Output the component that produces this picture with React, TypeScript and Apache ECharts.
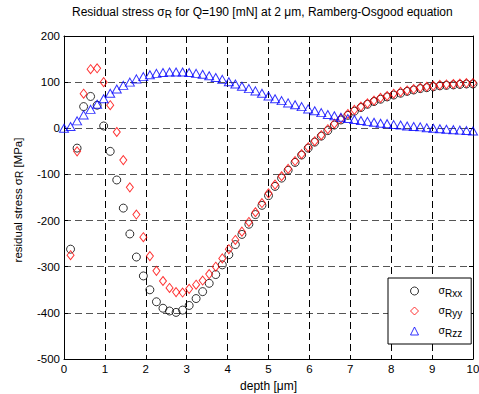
import React, { useEffect, useRef } from 'react';
import * as echarts from 'echarts';

// depth [µm] sampling points
const depth = [0, 0.16, 0.32, 0.48, 0.65, 0.81, 0.97, 1.13, 1.29, 1.45, 1.61, 1.77, 1.94, 2.10, 2.26, 2.42, 2.58, 2.74, 2.90, 3.06, 3.23, 3.39, 3.55, 3.71, 3.87, 4.03, 4.19, 4.35, 4.52, 4.68, 4.84, 5.00, 5.16, 5.32, 5.48, 5.65, 5.81, 5.97, 6.13, 6.29, 6.45, 6.61, 6.77, 6.94, 7.10, 7.26, 7.42, 7.58, 7.74, 7.90, 8.06, 8.23, 8.39, 8.55, 8.71, 8.87, 9.03, 9.19, 9.35, 9.52, 9.68, 9.84, 10.00];

// sigma_Rxx (starts at depth[1])
const rxx = [-262, -43, 47, 69, 50, 5, -50, -112, -173, -229, -279, -320, -350, -376, -390, -396, -399, -394, -384, -369, -354, -336, -317, -296, -274, -252, -230, -208, -187, -167, -146, -126, -108, -91, -74, -58, -43, -30, -17, -5, 7, 18, 28, 37, 45, 52, 58, 63, 68, 72, 76, 80, 83, 86, 88, 90, 92, 93, 94, 95, 96, 96];

// sigma_Ryy (starts at depth[1])
const ryy = [-275, -50, 75, 128, 130, 100, 50, -8, -69, -128, -187, -236, -277, -309, -331, -346, -355, -356, -348, -339, -330, -316, -300, -282, -262, -242, -224, -203, -182, -162, -141, -122, -104, -88, -71, -56, -41, -28, -15, -2, 10, 21, 31, 40, 47, 54, 60, 66, 70, 75, 79, 82, 85, 88, 90, 92, 94, 95, 96, 97, 98, 98];

// sigma_Rzz (starts at depth[0])
const rzz = [0, 4, 16, 29, 41, 52, 64, 76, 85, 93, 100, 107, 112, 116, 119, 121, 122, 122, 122, 121, 119, 117, 114, 110, 106, 101, 96, 91, 86, 81, 76, 70, 64, 60, 55, 51, 47, 42, 38, 34, 30, 27, 24, 21, 19, 17, 15, 13, 11, 10, 8, 7, 5, 4, 3, 1, 0, -1, -2, -3, -4, -5, -6];

const seriesNames = ['Rxx', 'Ryy', 'Rzz'];

export default function App() {
  const ref = useRef<HTMLDivElement>(null);
  useEffect(() => {
    document.body.style.margin = '0';
    const chart = echarts.init(ref.current!, null, { renderer: 'svg' });
    const font = '"Liberation Sans", Arial, sans-serif';
    const titleRich = {
      s: { fontSize: 12, fontFamily: font, color: '#000', lineHeight: 14 },
      sub: { fontSize: 10, fontFamily: font, color: '#000', lineHeight: 10, padding: [14, 0, 0, 0], verticalAlign: 'bottom' },
    };
    const yNameRich = {
      s: { fontSize: 11.5, fontFamily: font, color: '#000', lineHeight: 14 },
      sub: { fontSize: 10, fontFamily: font, color: '#000', lineHeight: 10, padding: [11, 0, 0, 0], verticalAlign: 'bottom' },
    };
    const legendRich = {
      s: { fontSize: 10.5, fontFamily: font, color: '#000', lineHeight: 14, padding: [0, 0, 2, 15] },
      sub: { fontSize: 10, fontFamily: font, color: '#000', lineHeight: 10, padding: [4, 0, 0, 0], verticalAlign: 'bottom' },
    };
    const rxxData = rxx.map((v, i) => [depth[i + 1], v]);
    const ryyData = ryy.map((v, i) => [depth[i + 1], v]);
    const rzzData = rzz.map((v, i) => [depth[i], v]);
    const axisLineStyle = { color: '#000', width: 1 };
    chart.setOption({
      animation: false,
      backgroundColor: '#fff',
      textStyle: { fontFamily: font },
      title: {
        text: 'Residual stress {s|σ}{sub|R} for Q=190 [mN] at 2 μm, Ramberg-Osgood equation',
        left: 72,
        top: 5,
        padding: 0,
        textStyle: { fontSize: 12, fontWeight: 'normal', color: '#000', fontFamily: font, lineHeight: 14, rich: titleRich },
      },
      grid: { left: 64, right: 6, top: 36, bottom: 35, containLabel: false, outerBoundsMode: 'none' },
      legend: {
        orient: 'vertical',
        left: 388,
        top: 278,
        padding: [6, 9, 6, 22],
        itemWidth: 8,
        itemHeight: 8,
        itemGap: 6,
        borderColor: '#000',
        borderWidth: 1,
        backgroundColor: '#fff',
        selectedMode: false,
        formatter: (n: string) => `{s|σ}{sub|${n}}`,
        textStyle: { fontSize: 10.5, color: '#000', fontFamily: font, lineHeight: 14, rich: legendRich },
        data: [
          { name: 'Rxx', icon: 'circle', itemStyle: { color: 'transparent', borderColor: '#000', borderWidth: 1 } },
          { name: 'Ryy', icon: 'diamond', itemStyle: { color: 'transparent', borderColor: '#ff0000', borderWidth: 1 } },
          { name: 'Rzz', icon: 'triangle', itemStyle: { color: 'transparent', borderColor: '#0000ff', borderWidth: 1 } },
        ],
      },
      xAxis: [
        {
          type: 'value', min: 0, max: 10, interval: 1, position: 'bottom',
          axisLine: { show: true, onZero: false, lineStyle: axisLineStyle },
          axisTick: { show: true, inside: true, length: 4, lineStyle: axisLineStyle },
          axisLabel: { color: '#000', fontSize: 11.5, margin: 4, fontFamily: font },
          splitLine: { show: true, lineStyle: { color: '#000', width: 1, type: [7, 4] } },
          name: 'depth [μm]', nameLocation: 'middle', nameGap: 20,
          nameTextStyle: { fontSize: 12, color: '#000', fontFamily: font },
        },
        {
          type: 'value', min: 0, max: 10, interval: 1, position: 'top',
          axisLine: { show: true, onZero: false, lineStyle: axisLineStyle },
          axisTick: { show: true, inside: true, length: 4, lineStyle: axisLineStyle },
          axisLabel: { show: false },
          splitLine: { show: false },
        },
      ],
      yAxis: [
        {
          type: 'value', min: -500, max: 200, interval: 100, position: 'left',
          axisLine: { show: true, onZero: false, lineStyle: axisLineStyle },
          axisTick: { show: true, inside: true, length: 4, lineStyle: axisLineStyle },
          axisLabel: { color: '#000', fontSize: 11.5, margin: 4, fontFamily: font },
          splitLine: { show: true, lineStyle: { color: '#555', width: 1.2, type: [7, 4] } },
          name: 'residual stress {s|σ}{sub|R} [MPa]', nameLocation: 'middle', nameGap: 39.5,
          nameTextStyle: { fontSize: 11.5, color: '#000', fontFamily: font, lineHeight: 14, padding: [0, 5, 0, 0], rich: yNameRich },
        },
        {
          type: 'value', min: -500, max: 200, interval: 100, position: 'right',
          axisLine: { show: true, onZero: false, lineStyle: axisLineStyle },
          axisTick: { show: true, inside: true, length: 4, lineStyle: axisLineStyle },
          axisLabel: { show: false },
          splitLine: { show: false },
        },
      ],
      series: [
        {
          name: seriesNames[0], type: 'scatter', data: rxxData, symbol: 'circle', symbolSize: 8, clip: false,
          itemStyle: { color: 'transparent', borderColor: '#000', borderWidth: 1 },
        },
        {
          name: seriesNames[1], type: 'scatter', data: ryyData, symbol: 'diamond', symbolSize: [7, 9], clip: false,
          itemStyle: { color: 'transparent', borderColor: '#ff0000', borderWidth: 1 },
        },
        {
          name: seriesNames[2], type: 'scatter', data: rzzData, symbol: 'triangle', symbolSize: [9, 8], clip: false,
          itemStyle: { color: 'transparent', borderColor: '#0000ff', borderWidth: 1 },
        },
      ],
    });
    return () => chart.dispose();
  }, []);
  return <div ref={ref} style={{ width: 479, height: 394 }} />;
}
